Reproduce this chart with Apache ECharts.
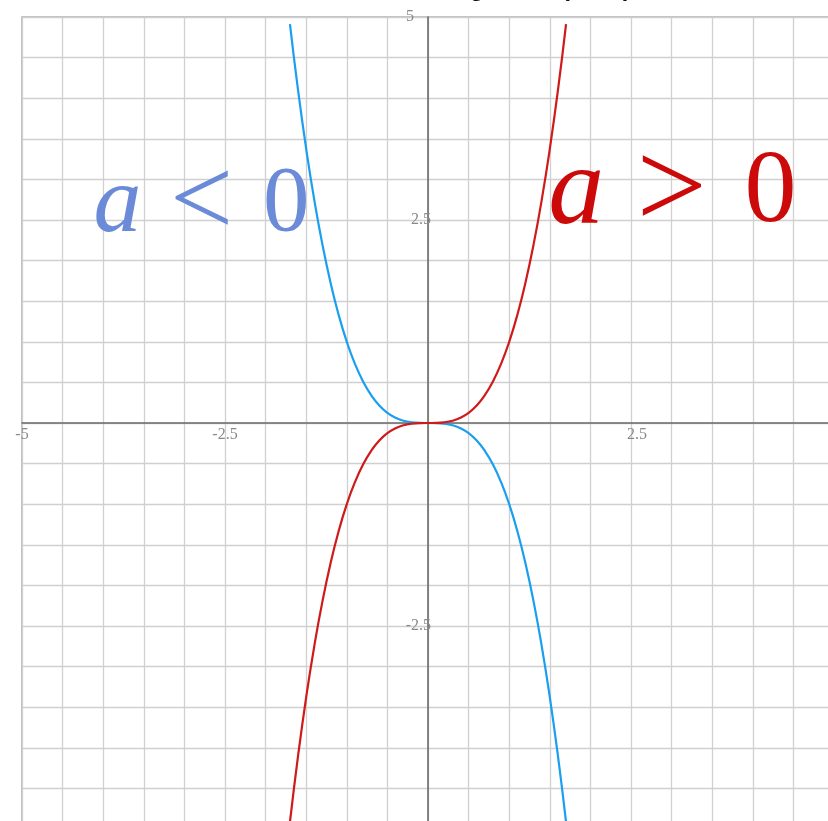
<!DOCTYPE html>
<html>
<head>
<meta charset="utf-8">
<script src="https://cdn.jsdelivr.net/npm/echarts@6/dist/echarts.min.js"></script>
<style>
  html, body { margin: 0; padding: 0; background: #ffffff; }
  #chart { width: 828px; height: 821px; }
</style>
</head>
<body>
<div id="chart"></div>
<script>
// Sample points along the two cubics y = a·x³ (a = 1 and a = -1)
const xValues = [
  -1.7, -1.6, -1.5, -1.4, -1.3, -1.2, -1.1, -1.0, -0.9, -0.8, -0.7, -0.6,
  -0.5, -0.4, -0.3, -0.2, -0.1, 0.0, 0.1, 0.2, 0.3, 0.4, 0.5, 0.6,
  0.7, 0.8, 0.9, 1.0, 1.1, 1.2, 1.3, 1.4, 1.5, 1.6, 1.7
];
const positiveA = [
  -4.913, -4.096, -3.375, -2.744, -2.197, -1.728, -1.331, -1.000, -0.729, -0.512, -0.343, -0.216,
  -0.125, -0.064, -0.027, -0.008, -0.001, 0.000, 0.001, 0.008, 0.027, 0.064, 0.125, 0.216,
  0.343, 0.512, 0.729, 1.000, 1.331, 1.728, 2.197, 2.744, 3.375, 4.096, 4.913
];
const negativeA = [
  4.913, 4.096, 3.375, 2.744, 2.197, 1.728, 1.331, 1.000, 0.729, 0.512, 0.343, 0.216,
  0.125, 0.064, 0.027, 0.008, 0.001, 0.000, -0.001, -0.008, -0.027, -0.064, -0.125, -0.216,
  -0.343, -0.512, -0.729, -1.000, -1.331, -1.728, -2.197, -2.744, -3.375, -4.096, -4.913
];
const xTickLabels = [-5, -2.5, 2.5, 5];
const yTickLabels = [5, 2.5, -2.5, -5];
const titleText = 'Scaling of ax\u00b3 (a \u2260 0)';

const chart = echarts.init(document.getElementById('chart'), null, { renderer: 'canvas' });

const gridColor = '#d0d0d0';
const axisColor = '#6a6a6a';
const labelColor = '#8a8a8a';
const serif = '"Liberation Serif", "DejaVu Serif", serif';

// plot box: 812 px for the 10 units on each axis, so the axes through 0 sit 406 px in
const plotSize = 812;
const halfPlot = plotSize / 2;

function pairs(ys) {
  return xValues.map((x, i) => [x, ys[i]]);
}

const option = {
  animation: false,
  backgroundColor: '#ffffff',
  title: {
    text: titleText,
    left: 399,
    top: -23,
    padding: 0,
    textStyle: {
      fontFamily: '"Liberation Sans", Arial, sans-serif',
      fontSize: 24,
      fontWeight: 'bold',
      color: '#111111'
    }
  },
  grid: {
    left: 22,
    top: 17,
    width: plotSize,
    height: plotSize,
    show: true,
    borderColor: '#ababab',
    borderWidth: 1.5,
    containLabel: false,
    outerBoundsMode: 'none'
  },
  xAxis: {
    type: 'value',
    position: 'bottom',
    offset: -halfPlot,
    min: -5,
    max: 5,
    interval: 0.5,
    axisLine: { onZero: false, lineStyle: { color: axisColor, width: 1.6 } },
    axisTick: { show: false },
    splitLine: { show: true, lineStyle: { color: gridColor, width: 1.3 } },
    axisLabel: {
      show: true,
      margin: 4,
      color: labelColor,
      fontFamily: serif,
      fontSize: 16,
      hideOverlap: false,
      formatter: function (v) {
        if (xTickLabels.indexOf(v) < 0) return '';
        return v > 0 ? '{s|}' + v : String(v);
      },
      rich: { s: { width: 12 } }
    }
  },
  yAxis: {
    type: 'value',
    position: 'left',
    offset: -halfPlot,
    min: -5,
    max: 5,
    interval: 0.5,
    axisLine: { onZero: false, lineStyle: { color: axisColor, width: 1.6 } },
    axisTick: { show: false },
    splitLine: { show: true, lineStyle: { color: gridColor, width: 1.3 } },
    axisLabel: {
      show: true,
      margin: -3,
      color: labelColor,
      fontFamily: serif,
      fontSize: 16,
      hideOverlap: false,
      formatter: function (v) {
        if (yTickLabels.indexOf(v) < 0) return '';
        return v === 5 ? '{t|5}' : String(v);
      },
      rich: { t: { padding: [0, 17, 0, 0], fontFamily: serif, fontSize: 16, color: labelColor } }
    }
  },
  series: [
    {
      name: 'a < 0',
      type: 'line',
      data: pairs(negativeA),
      smooth: true,
      showSymbol: false,
      symbol: 'none',
      lineStyle: { color: '#1a9ff0', width: 2.2 },
      z: 3
    },
    {
      name: 'a > 0',
      type: 'line',
      data: pairs(positiveA),
      smooth: true,
      showSymbol: false,
      symbol: 'none',
      lineStyle: { color: '#cf1a1a', width: 2.2 },
      z: 4
    }
  ]
};

chart.setOption(option);

// Annotations for the two cases, anchored in data coordinates.
// sizes: [italic a, relation sign, digit]; gaps: space after a, space after the sign
function caseLabel(dataPos, sign, color, sizes, gaps) {
  const p = chart.convertToPixel({ gridIndex: 0 }, dataPos);
  return {
    type: 'text',
    x: p[0],
    y: p[1],
    z: 10,
    style: {
      text: '{i|a}{r|' + sign + '}{n|0}',
      align: 'center',
      verticalAlign: 'middle',
      fill: color,
      rich: {
        i: { fontFamily: serif, fontStyle: 'italic', fontSize: sizes[0], fill: color, padding: [0, gaps[0], 0, 0] },
        r: { fontFamily: serif, fontSize: sizes[1], fill: color, padding: [0, gaps[1], 0, 0] },
        n: { fontFamily: serif, fontSize: sizes[2], fill: color }
      }
    }
  };
}

chart.setOption({
  graphic: [
    caseLabel([-2.79, 2.68], '<', '#6b8bd9', [96, 112, 93], [28.6, 29.8]),
    caseLabel([3.01, 2.82], '>', '#cc0a0a', [112, 125, 104], [32.4, 37.5])
  ]
});
</script>
</body>
</html>
